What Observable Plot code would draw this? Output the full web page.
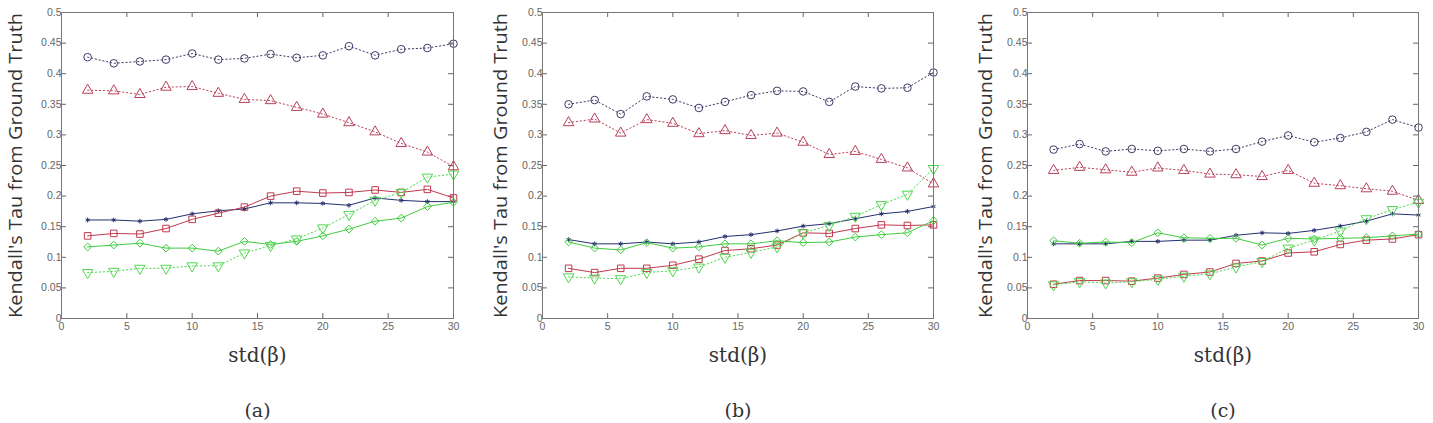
<!DOCTYPE html>
<html>
<head>
<meta charset="utf-8">
<script src="https://cdn.jsdelivr.net/npm/d3@7"></script>
<script src="https://cdn.jsdelivr.net/npm/@observablehq/plot@0.6"></script>
<style>
  html, body { margin: 0; padding: 0; background: white; }
  #root { position: relative; width: 1433px; height: 423px; overflow: hidden; }
  .panel { position: absolute; top: 0; }
</style>
</head>
<body>
<div id="root"></div>
<script>
// ---- data ----
const xs = [2, 4, 6, 8, 10, 12, 14, 16, 18, 20, 22, 24, 26, 28, 30];
const xTicks = [0, 5, 10, 15, 20, 25, 30];
const yTicks = [0, 0.05, 0.1, 0.15, 0.2, 0.25, 0.3, 0.35, 0.4, 0.45, 0.5];
const yLabel = "Kendall's Tau from Ground Truth";
const xLabel = "std(β)";
const captions = ["(a)", "(b)", "(c)"];
const seriesNames = ["circle", "triangle", "star", "square", "diamond", "triangleDown"];

// panel (a)
const circleA   = [0.427, 0.417, 0.420, 0.423, 0.433, 0.423, 0.425, 0.432, 0.426, 0.430, 0.445, 0.430, 0.440, 0.442, 0.449];
const triangleA = [0.373, 0.372, 0.366, 0.378, 0.379, 0.368, 0.358, 0.356, 0.345, 0.334, 0.320, 0.305, 0.286, 0.272, 0.248];
const starA     = [0.161, 0.161, 0.159, 0.162, 0.171, 0.176, 0.179, 0.189, 0.189, 0.188, 0.185, 0.197, 0.193, 0.191, 0.191];
const squareA   = [0.135, 0.139, 0.138, 0.147, 0.162, 0.172, 0.182, 0.200, 0.208, 0.205, 0.206, 0.210, 0.206, 0.211, 0.197];
const diamondA  = [0.117, 0.120, 0.123, 0.115, 0.115, 0.110, 0.126, 0.121, 0.126, 0.135, 0.146, 0.159, 0.164, 0.183, 0.190];
const triDownA  = [0.075, 0.077, 0.082, 0.082, 0.086, 0.086, 0.107, 0.119, 0.130, 0.148, 0.170, 0.193, 0.206, 0.231, 0.236];

// panel (b)
const circleB   = [0.350, 0.357, 0.334, 0.363, 0.358, 0.344, 0.354, 0.365, 0.372, 0.371, 0.354, 0.379, 0.376, 0.377, 0.402];
const triangleB = [0.320, 0.326, 0.303, 0.325, 0.319, 0.302, 0.307, 0.299, 0.303, 0.288, 0.268, 0.273, 0.260, 0.246, 0.220];
const starB     = [0.129, 0.122, 0.122, 0.125, 0.122, 0.125, 0.134, 0.137, 0.143, 0.151, 0.155, 0.163, 0.171, 0.175, 0.183];
const squareB   = [0.082, 0.075, 0.082, 0.082, 0.087, 0.097, 0.111, 0.114, 0.120, 0.140, 0.139, 0.147, 0.153, 0.152, 0.153];
const diamondB  = [0.125, 0.115, 0.112, 0.124, 0.115, 0.117, 0.122, 0.122, 0.127, 0.124, 0.125, 0.133, 0.137, 0.140, 0.160];
const triDownB  = [0.068, 0.066, 0.065, 0.075, 0.078, 0.084, 0.100, 0.108, 0.117, 0.140, 0.152, 0.167, 0.186, 0.203, 0.245];

// panel (c)
const circleC   = [0.276, 0.285, 0.273, 0.277, 0.274, 0.277, 0.273, 0.277, 0.289, 0.299, 0.288, 0.295, 0.305, 0.325, 0.312];
const triangleC = [0.242, 0.247, 0.243, 0.239, 0.246, 0.242, 0.236, 0.235, 0.232, 0.242, 0.221, 0.217, 0.212, 0.208, 0.193];
const starC     = [0.122, 0.122, 0.122, 0.126, 0.126, 0.128, 0.128, 0.136, 0.140, 0.139, 0.144, 0.151, 0.159, 0.171, 0.169];
const squareC   = [0.056, 0.062, 0.062, 0.061, 0.066, 0.072, 0.076, 0.090, 0.094, 0.107, 0.109, 0.121, 0.128, 0.130, 0.137];
const diamondC  = [0.127, 0.123, 0.125, 0.124, 0.140, 0.132, 0.131, 0.131, 0.120, 0.131, 0.130, 0.131, 0.132, 0.135, 0.138];
const triDownC  = [0.055, 0.060, 0.058, 0.060, 0.064, 0.069, 0.073, 0.084, 0.093, 0.115, 0.128, 0.143, 0.163, 0.178, 0.190];

const panelSeries = [
  [circleA, triangleA, starA, squareA, diamondA, triDownA],
  [circleB, triangleB, starB, squareB, diamondB, triDownB],
  [circleC, triangleC, starC, squareC, diamondC, triDownC]
];

// ---- styles ----
const styles = {
  circle:       {color: "#3c3c66", symbol: "circle",   r: 3.8, dash: "1.3,2.6", rotate: 0},
  triangle:     {color: "#b8405a", symbol: "triangle", r: 3.9, dash: "1.3,2.6", rotate: 0},
  star:         {color: "#24306e", symbol: "asterisk", r: 2.2, dash: null,      rotate: 0},
  square:       {color: "#bf3a4e", symbol: "square",   r: 3.7, dash: null,      rotate: 0},
  diamond:      {color: "#3ecc3e", symbol: "diamond2", r: 3.5, dash: null,      rotate: 0},
  triangleDown: {color: "#4ed84e", symbol: "triangle", r: 3.9, dash: "1.3,2.6", rotate: 180}
};

const layouts = [
  {left: 0,   width: 478, marginLeft: 61, marginRight: 25, ylabelDx: -46},
  {left: 480, width: 470, marginLeft: 62, marginRight: 17, ylabelDx: -42},
  {left: 950, width: 483, marginLeft: 77, marginRight: 15, ylabelDx: -42}
];
const marginTop = 12, marginBottom = 105, H = 423, tick = 5;

const fmt = d => String(+d.toFixed(2));
const root = document.getElementById("root");

layouts.forEach((L, p) => {
  const frameW = L.width - L.marginLeft - L.marginRight;
  const frameH = H - marginTop - marginBottom;
  const rows = [];
  seriesNames.forEach((s, k) => {
    panelSeries[p][k].forEach((v, i) => rows.push({series: s, x: xs[i], y: v}));
  });
  const marks = [
    Plot.axisX({ticks: xTicks, tickFormat: fmt, tickSize: -tick, tickPadding: 9, color: "#666", fontSize: 10.5, label: null}),
    Plot.axisY({ticks: yTicks, tickFormat: fmt, tickSize: -tick, tickPadding: 5, color: "#666", fontSize: 10.5, label: null}),
    // inward ticks on the top and right edges (MATLAB box style)
    Plot.tickX(xTicks, {x: d => d, insetBottom: frameH - tick, stroke: "#666"}),
    Plot.tickY(yTicks, {y: d => d, insetLeft: frameW - tick, stroke: "#666"})
  ];
  seriesNames.forEach(s => {
    const st = styles[s];
    const d = rows.filter(r => r.series === s);
    marks.push(Plot.line(d, {x: "x", y: "y", stroke: st.color, strokeWidth: 1, strokeDasharray: st.dash || undefined}));
    marks.push(Plot.dot(d, {x: "x", y: "y", symbol: () => st.symbol, r: st.r, stroke: st.color, fill: "none", strokeWidth: 1, rotate: st.rotate}));
  });
  marks.push(Plot.frame({stroke: "#777", strokeWidth: 1}));
  marks.push(Plot.text([yLabel], {text: d => d, frameAnchor: "left", rotate: -90, dx: L.ylabelDx, textAnchor: "middle", lineAnchor: "middle", fontFamily: "Open Sans, sans-serif", fontSize: 19, fill: "#333"}));
  marks.push(Plot.text([xLabel], {text: d => d, frameAnchor: "bottom", dy: 37, textAnchor: "middle", lineAnchor: "middle", fontFamily: "DejaVu Serif, serif", fontSize: 20, fill: "#333"}));
  marks.push(Plot.text([captions[p]], {text: d => d, frameAnchor: "bottom", dy: 92, textAnchor: "middle", lineAnchor: "middle", fontFamily: "DejaVu Serif, serif", fontSize: 19, fill: "#333"}));

  const chart = Plot.plot({
    width: L.width,
    height: H,
    marginLeft: L.marginLeft,
    marginRight: L.marginRight,
    marginTop,
    marginBottom,
    x: {domain: [0, 30]},
    y: {domain: [0, 0.5]},
    symbol: {type: "identity"},
    style: {fontFamily: "Liberation Sans Narrow, Liberation Sans, sans-serif", fontSize: "10.5px", background: "white", overflow: "visible"},
    marks
  });
  chart.querySelectorAll("text").forEach(t => {
    if (t.textContent === yLabel) {
      t.setAttribute("textLength", 305);
      t.setAttribute("lengthAdjust", "spacingAndGlyphs");
    }
  });
  const div = document.createElement("div");
  div.className = "panel";
  div.style.left = L.left + "px";
  div.style.width = L.width + "px";
  div.appendChild(chart);
  root.appendChild(div);
});
</script>
</body>
</html>
